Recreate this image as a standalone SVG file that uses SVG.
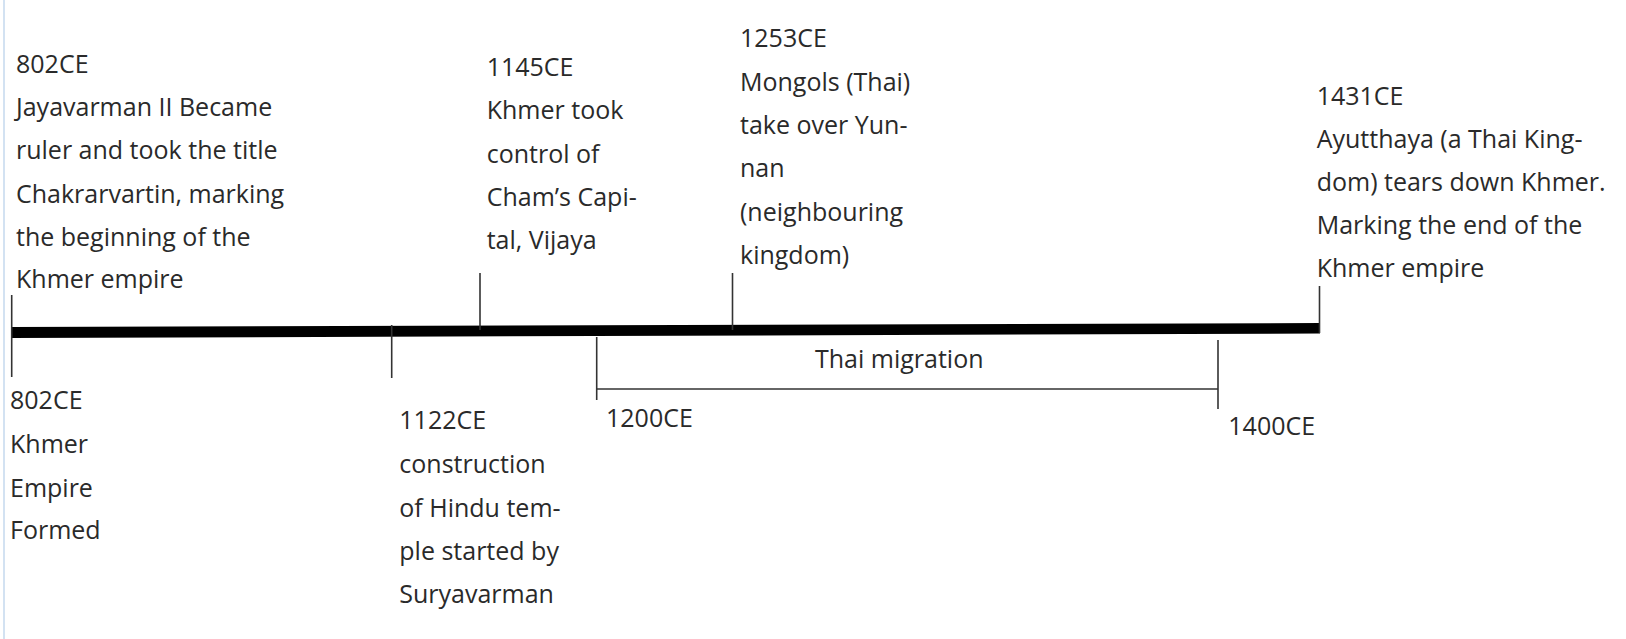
<svg xmlns="http://www.w3.org/2000/svg" width="1626" height="639" viewBox="0 0 1626 639">
<style>
text{font-family:"Open Sans","Noto Sans",sans-serif;font-size:25px;fill:#2a2a2a}
.tick{stroke:#333;stroke-width:1.6;fill:none}
</style>
<rect width="1626" height="639" fill="#fff"/>
<line x1="4" y1="0" x2="4" y2="639" stroke="#c4d8ee" stroke-width="1.5"/>
<g id="connectors">
<polygon points="11,327 1320,323 1320,333.5 11,338" fill="#000"/>
<line class="tick" x1="11.7" y1="295" x2="11.7" y2="377"/>
<line class="tick" x1="391.7" y1="325" x2="391.7" y2="378"/>
<line class="tick" x1="480" y1="273" x2="480" y2="330"/>
<line class="tick" x1="732.5" y1="273" x2="732.5" y2="330"/>
<line class="tick" x1="596.7" y1="337" x2="596.7" y2="400"/>
<line class="tick" x1="1218" y1="340" x2="1218" y2="409"/>
<line class="tick" x1="1319.5" y1="286" x2="1319.5" y2="333"/>
<line class="tick" x1="596.7" y1="389" x2="1218" y2="389"/>
</g>
<g id="e802top">
<text x="16" y="72.7">802CE</text>
<text x="16" y="116">Jayavarman II Became</text>
<text x="16" y="159.3">ruler and took the title</text>
<text x="16" y="202.7">Chakrarvartin, marking</text>
<text x="16" y="245.7">the beginning of the</text>
<text x="16" y="288.3">Khmer empire</text>
</g>
<g id="e1145">
<text x="486.7" y="76">1145CE</text>
<text x="486.7" y="119.3">Khmer took</text>
<text x="486.7" y="162.7">control of</text>
<text x="486.7" y="206">Cham’s Capi-</text>
<text x="486.7" y="249.3">tal, Vijaya</text>
</g>
<g id="e1253">
<text x="740" y="46.7">1253CE</text>
<text x="740" y="90.7">Mongols (Thai)</text>
<text x="740" y="134">take over Yun-</text>
<text x="740" y="177.3">nan</text>
<text x="740" y="220.7">(neighbouring</text>
<text x="740" y="264">kingdom)</text>
</g>
<g id="e1431">
<text x="1316.7" y="105">1431CE</text>
<text x="1316.7" y="148.3">Ayutthaya (a Thai King-</text>
<text x="1316.7" y="191">dom) tears down Khmer.</text>
<text x="1316.7" y="234.3">Marking the end of the</text>
<text x="1316.7" y="276.7">Khmer empire</text>
</g>
<g id="e802bottom">
<text x="10" y="409.3">802CE</text>
<text x="10" y="452.7">Khmer</text>
<text x="10" y="496.7">Empire</text>
<text x="10" y="539.3">Formed</text>
</g>
<g id="e1122">
<text x="399.3" y="429">1122CE</text>
<text x="399.3" y="473.3">construction</text>
<text x="399.3" y="516.7">of Hindu tem-</text>
<text x="399.3" y="560">ple started by</text>
<text x="399.3" y="603.3">Suryavarman</text>
</g>
<g id="e1200">
<text x="606" y="427.3">1200CE</text>
</g>
<g id="thai">
<text x="815" y="368.3">Thai migration</text>
</g>
<g id="e1400">
<text x="1228.3" y="435">1400CE</text>
</g>
</svg>
